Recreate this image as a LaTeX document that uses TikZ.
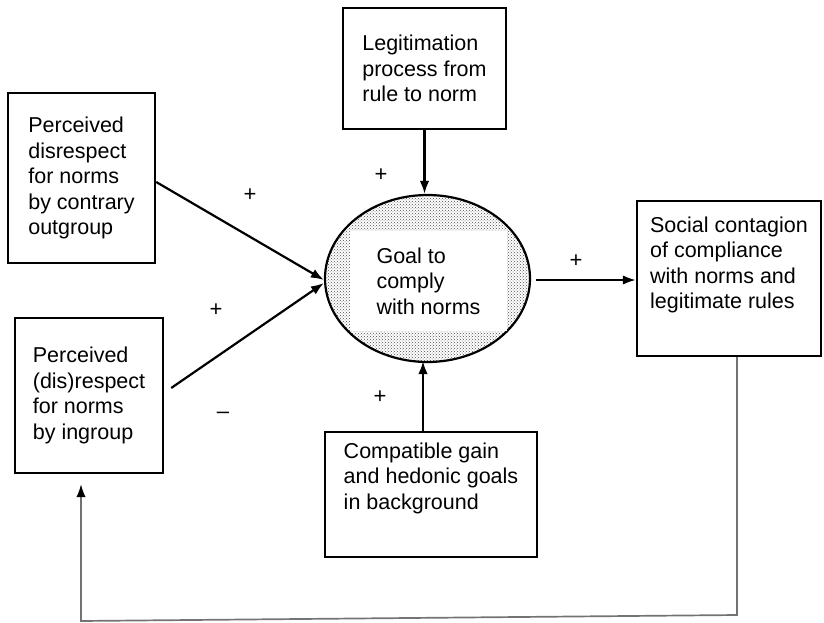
\documentclass[tikz,border=0pt]{standalone}
\usepackage{fontspec}
\setmainfont{Liberation Sans}
\usetikzlibrary{shapes.geometric,patterns,arrows.meta}
\begin{document}
\begin{tikzpicture}[x=1pt,y=-1pt,
    box/.style={draw,line width=2.4pt,align=left,inner sep=0pt,
        font=\fontsize{21.5}{25.5}\selectfont},
    arr/.style={line width=2.2pt,-{Latex[length=13pt,width=9.5pt]}},
    sign/.style={font=\fontsize{22}{22}\selectfont},
    feedback/.style={line width=1.7pt,black!55,
        -{Latex[black,length=13pt,width=9.5pt]}}]
        \useasboundingbox (0,0) rectangle (824,623);
        \node[box,minimum width=147pt,minimum height=170pt] (pout) at (81.5,178)
            {Perceived\\disrespect\\for norms\\by contrary\\outgroup};
        \node[box,minimum width=148pt,minimum height=155pt] (pin) at (89,395.5)
            {Perceived\\(dis)respect\\for norms\\by ingroup};
        \node[box,minimum width=163pt,minimum height=121pt] (legit) at (424.5,68.5)
            {Legitimation\\process from\\rule to norm};
        \node[box,minimum width=212pt,minimum height=125pt] (compat) at (431,494.5)
            {Compatible gain\\and hedonic goals\\in background\\[12pt]};
        \node[box,minimum width=184pt,minimum height=155pt] (social) at (729,278.5)
            {Social contagion\\of compliance\\with norms and\\legitimate rules\\[6pt]};
        \node[draw,ellipse,line width=2.2pt,inner sep=0pt,minimum width=205pt,
            minimum height=167pt,pattern=crosshatch dots,pattern color=black!70]
            (goal) at (427.5,278.5) {};
        \node[fill=white,minimum width=157pt,minimum height=100pt,align=left,
            inner sep=0pt,font=\fontsize{21.5}{25.5}\selectfont] (goaltxt) at (428.5,281)
            {Goal to\\comply\\with norms};
        \draw[arr] ([yshift=-4pt]pout.east) -- ([yshift=-1.5pt]goal.west);
        \draw[arr] ([xshift=7pt,yshift=7.5pt]pin.east) -- ([yshift=-4.5pt]goal.west);
        \draw[arr] (legit.south) -- (legit.south |- goal.north);
        \draw[arr] ([xshift=-8pt]compat.north) -- ([xshift=-8pt,yshift=2pt]compat.north |- goal.south);
        \draw[arr,shorten <=5pt] ([yshift=-1.5pt]goal.east) -- ([yshift=-1.5pt]goal.east -| social.west);
        \coordinate (fbr) at (737,615);
        \coordinate (fbl) at (81,621);
        \draw[feedback,shorten >=10pt] ([xshift=8pt]social.south) -- (fbr) -- (fbl)
            -- ([xshift=-8pt]pin.south);
        \node[sign] (s1) at (250,195) {+};
        \node[sign] (s2) at (216,310) {+};
        \node[sign] (s3) at (223,415) {--};
        \node[sign] (s4) at (381,175) {+};
        \node[sign] (s5) at (380,397) {+};
        \node[sign] (s6) at (576,261) {+};
    \end{tikzpicture}
\end{document}
